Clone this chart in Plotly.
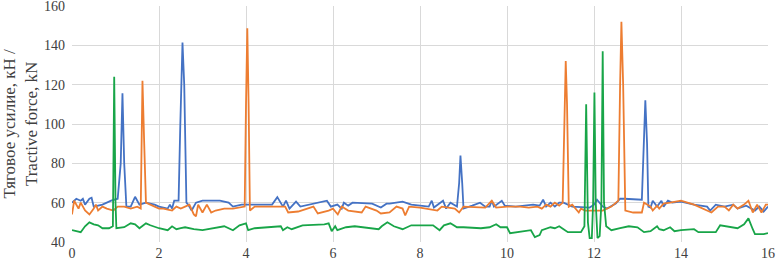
import plotly.graph_objects as go

# Blue series
blue_x = [0.0, 0.1, 0.2, 0.25, 0.3, 0.4, 0.45, 0.5, 0.7, 0.9, 1.05, 1.12, 1.16, 1.2, 1.25, 1.35, 1.45, 1.55, 1.7, 1.9, 2.0, 2.2, 2.25, 2.3, 2.35, 2.45, 2.49, 2.54, 2.58, 2.63, 2.67, 2.75, 2.85, 3.0, 3.4, 3.6, 3.7, 3.9, 4.2, 4.6, 4.72, 4.85, 4.92, 5.0, 5.15, 5.25, 5.86, 5.95, 6.1, 6.2, 6.25, 6.35, 6.45, 6.9, 7.1, 7.23, 7.3, 7.6, 7.8, 8.2, 8.27, 8.32, 8.53, 8.6, 8.7, 8.85, 8.9, 8.93, 8.97, 9.0, 9.2, 9.38, 9.5, 9.6, 9.65, 9.7, 9.88, 9.95, 10.2, 10.6, 10.75, 10.83, 10.9, 11.0, 11.1, 11.2, 11.3, 11.5, 11.9, 12.0, 12.07, 12.2, 12.3, 12.5, 12.6, 12.7, 13.1, 13.15, 13.18, 13.22, 13.25, 13.3, 13.35, 13.45, 13.55, 13.6, 13.7, 13.8, 14.0, 14.3, 14.6, 14.67, 14.8, 15.0, 15.2, 15.3, 15.5, 15.7, 15.8, 15.9, 16.0]
blue_y = [60, 62, 61, 62, 59, 62, 62.5, 58, 59, 61, 62, 80, 115.6, 80, 58, 58, 63, 59, 60, 59, 58, 57, 59, 57, 61, 61, 100, 141.4, 120, 60, 59, 56, 60, 61, 61, 60, 58, 59, 59, 59, 62.8, 58, 61, 57, 60.5, 58, 61, 58, 59, 57, 60, 58.5, 60, 59.5, 57.5, 59.5, 59.5, 60.5, 59, 58, 61, 57.5, 61, 57, 60, 58, 70, 84, 70, 57, 58.5, 60, 58, 58, 61, 58, 61, 58.5, 58, 59, 58.5, 61.5, 58, 60, 58, 60, 60, 58, 57.5, 59, 61.5, 58, 57, 59.5, 62, 62, 61.5, 90, 112, 90, 58, 57.5, 61, 58, 61, 58, 61, 60, 60.5, 59, 58, 56, 59, 58, 59, 57, 58.5, 56, 58, 55.5, 58]

# Orange series
orange_x = [0.0, 0.05, 0.15, 0.2, 0.3, 0.4, 0.5, 0.55, 0.6, 0.7, 0.8, 0.95, 1.05, 1.2, 1.35, 1.5, 1.58, 1.62, 1.66, 1.7, 1.9, 2.0, 2.1, 2.3, 2.4, 2.5, 2.6, 2.7, 2.8, 2.85, 2.9, 3.0, 3.1, 3.2, 3.3, 3.5, 3.7, 3.97, 4.0, 4.03, 4.06, 4.09, 4.2, 4.9, 4.97, 5.2, 5.55, 5.65, 5.9, 6.0, 6.11, 6.2, 6.35, 6.66, 6.75, 7.0, 7.1, 7.3, 7.46, 7.6, 7.66, 7.75, 8.0, 8.4, 8.5, 8.8, 8.9, 9.0, 9.5, 9.65, 9.75, 10.0, 10.3, 10.5, 10.7, 10.8, 10.9, 11.0, 11.1, 11.2, 11.28, 11.32, 11.35, 11.38, 11.42, 11.5, 11.6, 11.65, 11.7, 11.8, 12.0, 12.2, 12.4, 12.5, 12.56, 12.6, 12.63, 12.67, 12.72, 12.9, 13.1, 13.15, 13.3, 13.35, 13.45, 13.5, 13.6, 13.75, 14.0, 14.3, 14.6, 14.7, 14.85, 15.0, 15.1, 15.2, 15.3, 15.45, 15.55, 15.65, 15.75, 15.85, 15.95, 16.0]
orange_y = [54, 61, 57, 60, 56, 54, 57, 59, 56, 58, 57, 56, 58, 58, 57, 58, 57, 122, 90, 60, 58, 57, 57, 56, 58, 57, 58, 59, 54, 53, 59, 55, 59, 55, 56, 57, 57, 58, 110, 148.7, 110, 56, 58, 58, 55, 55.5, 58, 54.5, 56, 57, 54, 58, 56, 55, 58, 56, 54.5, 55, 58, 57, 53.5, 58, 57.5, 56, 58, 57, 55, 58, 57.5, 61, 57.5, 58, 58, 57.5, 58, 57, 59, 58, 60, 58.5, 60, 110, 132, 110, 58, 59, 56, 55, 57, 56, 56, 56, 58, 60, 61, 120, 152, 120, 56, 55, 55, 60, 58, 56, 58.5, 57, 59.5, 60, 61, 59, 56, 55, 58, 58, 56, 59, 57, 59, 61, 55, 59, 55, 59, 59]

# Green series
green_x = [0.0, 0.1, 0.2, 0.3, 0.4, 0.5, 0.6, 0.7, 0.85, 0.94, 0.97, 1.0, 1.02, 1.2, 1.35, 1.45, 1.55, 1.7, 1.8, 2.0, 2.2, 2.3, 2.4, 2.5, 2.6, 2.8, 3.0, 3.5, 3.7, 3.85, 4.0, 4.05, 4.2, 4.5, 4.8, 4.85, 4.95, 5.05, 5.3, 5.8, 5.9, 5.97, 6.05, 6.1, 6.3, 6.5, 6.85, 7.05, 7.12, 7.25, 7.4, 7.6, 7.8, 8.3, 8.45, 8.55, 8.7, 8.85, 9.0, 9.4, 9.6, 9.75, 9.85, 10.0, 10.07, 10.2, 10.4, 10.55, 10.64, 10.75, 10.8, 11.0, 11.1, 11.2, 11.3, 11.4, 11.7, 11.78, 11.82, 11.86, 11.9, 11.95, 11.98, 12.01, 12.04, 12.08, 12.13, 12.17, 12.2, 12.23, 12.28, 12.4, 12.6, 12.8, 13.0, 13.15, 13.3, 13.45, 13.5, 13.6, 13.75, 13.85, 14.0, 14.3, 14.4, 14.8, 14.9, 15.3, 15.45, 15.55, 15.65, 15.7, 15.9, 16.0]
green_y = [46, 45.5, 45, 48, 50, 49, 48.5, 47, 47, 48, 124, 60, 47, 47.5, 49.5, 49, 47, 49.5, 48.5, 47, 46, 48, 46.5, 47, 47.5, 46.5, 46, 48, 46, 48.5, 49.5, 46, 47, 47.5, 48, 46, 47.5, 46.5, 48.5, 49, 49.5, 45.5, 48, 46, 47.5, 48, 47, 46.5, 48, 50, 48, 46.5, 48.5, 48.5, 46, 48.5, 49.5, 47.5, 47.5, 47, 47.5, 49, 47.5, 47.5, 44.5, 45, 45.5, 46, 42.5, 43.5, 46, 47.5, 47, 48, 46.5, 45, 45, 48, 110, 50, 42, 42, 60, 116, 60, 42, 43, 60, 137, 60, 48, 46, 47, 48, 47.5, 45, 45.5, 48, 46.5, 46, 47.5, 45.5, 46, 46.5, 45, 45, 48.5, 47, 49, 52, 46.5, 44, 44, 44.5]

x_ticks = [0, 2, 4, 6, 8, 10, 12, 14, 16]
y_ticks = [40, 60, 80, 100, 120, 140, 160]
y_title = "Тяговое усилие, кН /<br>Tractive force, kN"

FONT = "'Liberation Serif', 'Times New Roman', Times, serif"
TICKFONT = "serif"
TXT = "#404040"

fig = go.Figure()
for xs, ys, col in [(blue_x, blue_y, "#4472C4"), (orange_x, orange_y, "#ED7D31"), (green_x, green_y, "#18A548")]:
    fig.add_trace(go.Scatter(x=xs, y=ys, mode="lines", line=dict(color=col, width=1.8), showlegend=False))

fig.update_layout(
    width=776, height=263,
    margin=dict(l=72, r=8, t=6, b=21, autoexpand=False),
    paper_bgcolor="white", plot_bgcolor="white",
    font=dict(family=TICKFONT, size=14, color=TXT),
    showlegend=False,
)
fig.update_xaxes(range=[0, 16], tickvals=x_ticks, ticktext=[str(v) for v in x_ticks],
                 showgrid=True, gridcolor="#d9d9d9", gridwidth=1, zeroline=False,
                 showline=False, ticks="", automargin=False, ticklabeloverflow="allow",
                 ticklabelstandoff=1,
                 tickfont=dict(family=TICKFONT, size=14, color=TXT))
fig.update_yaxes(range=[40, 160], tickvals=y_ticks, ticktext=[str(v) for v in y_ticks],
                 showgrid=True, gridcolor="#d9d9d9", gridwidth=1, zeroline=False,
                 showline=False, ticks="", automargin=False, ticklabeloverflow="allow",
                 ticklabelstandoff=6,
                 tickfont=dict(family=TICKFONT, size=14, color=TXT))
fig.add_annotation(text=y_title, textangle=-90, xref="paper", yref="paper",
                   x=0, y=0.5, xanchor="right", yanchor="middle", xshift=-30,
                   showarrow=False, align="center",
                   font=dict(family=FONT, size=17, color=TXT))

fig.write_html("out.html", config={"displayModeBar": False},
               post_script="document.body.style.margin='0';document.body.style.overflow='hidden';")
